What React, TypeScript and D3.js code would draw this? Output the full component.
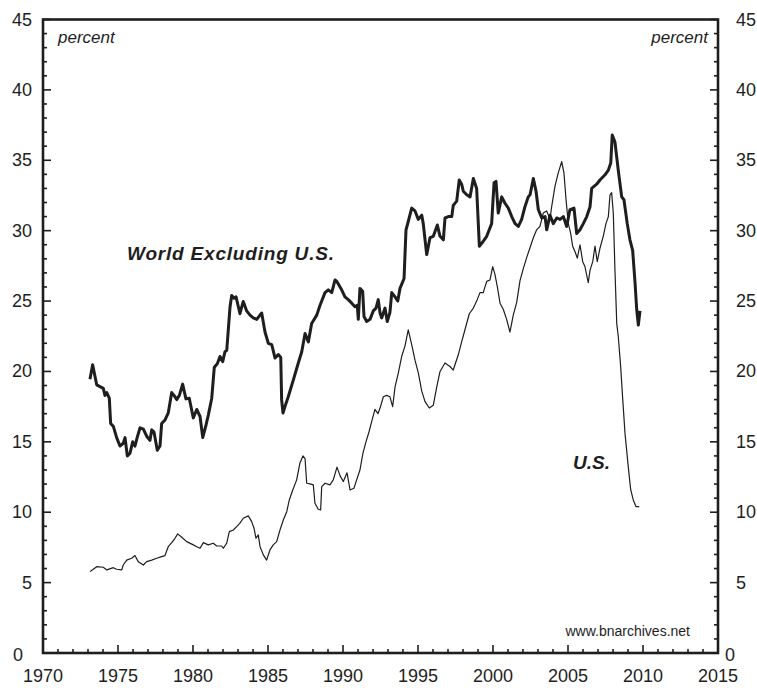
import * as d3 from 'd3';

// World excluding U.S. (thick line)
const worldYears = [
  1973.13, 1973.31, 1973.58, 1974.02, 1974.13, 1974.25, 1974.42, 1974.51, 1974.69, 1974.91,
  1975.13, 1975.35, 1975.47, 1975.62, 1975.8, 1975.98, 1976.13, 1976.29, 1976.47, 1976.69,
  1976.91, 1977.13, 1977.25, 1977.4, 1977.62, 1977.8, 1977.91, 1978.13, 1978.35, 1978.58,
  1978.8, 1978.91, 1979.09, 1979.31, 1979.53, 1979.75, 1980.02, 1980.25, 1980.47, 1980.65,
  1980.87, 1981.02, 1981.25, 1981.42, 1981.62, 1981.8, 1981.98, 1982.13, 1982.25, 1982.37,
  1982.47, 1982.58, 1982.73, 1982.87, 1983.0, 1983.13, 1983.35, 1983.58, 1983.8, 1984.02,
  1984.25, 1984.58, 1984.8, 1985.02, 1985.25, 1985.47, 1985.69, 1985.85, 1985.91, 1986.0,
  1986.13, 1986.35, 1986.69, 1987.02, 1987.25, 1987.47, 1987.69, 1987.91, 1988.25, 1988.47,
  1988.8, 1989.02, 1989.25, 1989.47, 1989.58, 1989.91, 1990.13, 1990.35, 1990.58, 1990.8,
  1990.95, 1991.02, 1991.13, 1991.31, 1991.4, 1991.58, 1991.8, 1992.02, 1992.2, 1992.35,
  1992.47, 1992.58, 1992.8, 1992.95, 1993.13, 1993.25, 1993.47, 1993.65, 1993.8, 1994.07,
  1994.2, 1994.35, 1994.58, 1994.8, 1995.02, 1995.25, 1995.35, 1995.58, 1995.8, 1996.02,
  1996.29, 1996.47, 1996.69, 1996.8, 1997.02, 1997.25, 1997.35, 1997.58, 1997.75, 1997.91,
  1998.02, 1998.25, 1998.47, 1998.69, 1998.91, 1999.09, 1999.25, 1999.58, 1999.91, 2000.07,
  2000.2, 2000.35, 2000.58, 2000.8, 2001.02, 2001.25, 2001.47, 2001.69, 2001.91, 2002.13,
  2002.35, 2002.47, 2002.69, 2002.87, 2003.02, 2003.25, 2003.47, 2003.58, 2003.8, 2004.02,
  2004.25, 2004.47, 2004.69, 2004.91, 2005.13, 2005.4, 2005.58, 2005.8, 2006.02, 2006.25,
  2006.47, 2006.58, 2006.91, 2007.13, 2007.47, 2007.69, 2007.85, 2007.95, 2008.13, 2008.35,
  2008.58, 2008.73, 2008.95, 2009.13, 2009.31, 2009.47, 2009.58, 2009.69, 2009.8,
];
const worldValues = [
  19.45, 20.47, 19.05, 18.8, 18.3, 18.5, 18.1, 16.3, 16.1, 15.3,
  14.7, 14.9, 15.3, 14.0, 14.2, 15.0, 14.7, 15.35, 16.0, 15.9,
  15.4, 15.1, 15.85, 15.7, 14.4, 14.7, 16.3, 16.55, 17.05, 18.5,
  18.2, 18.0, 18.3, 19.1, 18.05, 18.1, 16.7, 17.3, 16.8, 15.3,
  16.2, 16.9, 18.1, 20.3, 20.55, 21.06, 20.7, 21.4, 21.5, 23.2,
  24.6, 25.4, 25.2, 25.3, 24.7, 24.1, 24.97, 24.3, 24.0, 23.8,
  23.7, 24.15, 22.8, 22.0, 21.9, 20.95, 21.2, 21.0, 17.98, 17.05,
  17.5, 18.2, 19.4, 20.6, 21.4, 22.7, 22.1, 23.4, 24.0, 24.7,
  25.6, 25.8, 25.6, 26.5, 26.4, 25.8, 25.3, 25.1, 24.85, 24.6,
  24.7, 23.7, 25.9, 25.7, 23.9, 23.55, 23.7, 24.3, 24.5, 25.1,
  24.15, 23.8, 24.5, 23.55, 24.2, 25.6, 25.3, 25.0, 25.9, 26.6,
  30.06, 30.65, 31.6, 31.4, 30.8, 31.1, 30.5, 28.3, 29.5, 29.6,
  30.4, 29.6, 29.35, 30.9, 31.0, 31.0, 31.8, 32.1, 33.6, 33.3,
  32.8, 32.55, 32.4, 33.7, 33.0, 28.9, 29.1, 29.6, 30.5, 33.4,
  33.5, 31.25, 32.4, 31.95, 31.6, 31.0, 30.5, 30.3, 30.8, 31.7,
  32.4, 32.55, 33.7, 32.8, 31.5, 30.9, 31.0, 30.06, 31.1, 30.5,
  30.9, 30.8, 31.0, 30.3, 31.5, 31.6, 29.8, 30.06, 30.5, 31.0,
  31.7, 33.0, 33.3, 33.6, 33.97, 34.3, 34.8, 36.8, 36.3, 34.3,
  32.4, 32.2, 30.5, 29.35, 28.6, 26.3, 24.4, 23.3, 24.3,
];

// U.S. (thin line)
const usYears = [
  1973.13, 1973.35, 1973.58, 1974.02, 1974.25, 1974.69, 1974.91, 1975.25, 1975.35, 1975.58,
  1975.91, 1976.13, 1976.35, 1976.69, 1976.91, 1977.25, 1977.58, 1977.91, 1978.13, 1978.35,
  1978.58, 1978.8, 1978.98, 1979.25, 1979.58, 1980.02, 1980.25, 1980.47, 1980.69, 1981.02,
  1981.35, 1981.58, 1981.91, 1982.02, 1982.25, 1982.42, 1982.69, 1982.91, 1983.13, 1983.35,
  1983.69, 1983.91, 1984.07, 1984.2, 1984.35, 1984.47, 1984.69, 1984.91, 1985.13, 1985.35,
  1985.58, 1985.8, 1986.02, 1986.25, 1986.42, 1986.65, 1986.91, 1987.13, 1987.33, 1987.47,
  1987.58, 1987.87, 1988.02, 1988.13, 1988.35, 1988.51, 1988.58, 1988.8, 1989.13, 1989.35,
  1989.6, 1989.8, 1990.02, 1990.27, 1990.47, 1990.73, 1990.91, 1991.13, 1991.33, 1991.53,
  1991.73, 1991.93, 1992.13, 1992.33, 1992.47, 1992.69, 1992.91, 1993.13, 1993.31, 1993.47,
  1993.69, 1993.91, 1994.13, 1994.35, 1994.58, 1994.8, 1995.02, 1995.25, 1995.47, 1995.75,
  1996.02, 1996.25, 1996.47, 1996.8, 1997.13, 1997.35, 1997.69, 1997.91, 1998.13, 1998.42,
  1998.69, 1998.95, 1999.13, 1999.35, 1999.58, 1999.8, 1999.98, 2000.13, 2000.29, 2000.47,
  2000.69, 2000.91, 2001.13, 2001.35, 2001.58, 2001.8, 2002.02, 2002.25, 2002.47, 2002.69,
  2002.91, 2003.13, 2003.35, 2003.58, 2003.8, 2003.91, 2004.13, 2004.35, 2004.58, 2004.73,
  2004.87, 2005.02, 2005.18, 2005.31, 2005.47, 2005.62, 2005.8, 2005.98, 2006.13, 2006.35,
  2006.47, 2006.65, 2006.8, 2006.95, 2007.13, 2007.35, 2007.53, 2007.69, 2007.8, 2007.91,
  2008.02, 2008.13, 2008.25, 2008.35, 2008.51, 2008.65, 2008.8, 2009.02, 2009.18, 2009.35,
  2009.53, 2009.75,
];
const usValues = [
  5.78, 5.95, 6.13, 6.09, 5.9, 6.06, 5.95, 5.9, 6.25, 6.6,
  6.73, 6.92, 6.49, 6.25, 6.49, 6.6, 6.73, 6.85, 6.92, 7.55,
  7.84, 8.15, 8.46, 8.22, 7.91, 7.68, 7.55, 7.44, 7.84, 7.68,
  7.8, 7.6, 7.6, 7.44, 7.8, 8.62, 8.74, 8.98, 9.22, 9.57,
  9.74, 9.33, 8.86, 8.15, 8.39, 7.55, 6.97, 6.6, 7.32, 7.68,
  7.91, 8.74, 9.45, 10.04, 10.87, 11.58, 12.3, 13.5, 14.0, 13.8,
  12.06, 12.0, 11.94, 10.64, 10.21, 10.16, 11.82, 12.06, 11.94, 12.3,
  13.2, 12.6, 12.18, 12.8, 11.58, 11.7, 12.3, 13.0, 14.2, 15.0,
  15.7, 16.5, 17.3, 17.0, 17.4, 18.2, 18.3, 18.2, 17.5, 18.9,
  19.9, 21.06, 21.8, 22.96, 21.9, 20.8, 19.9, 18.6, 17.86, 17.4,
  17.6, 18.9, 20.0, 20.6, 20.35, 20.1, 21.2, 22.1, 22.96, 24.1,
  24.5, 25.1, 25.6, 25.6, 26.4, 26.5, 27.45, 26.9, 26.0, 24.85,
  24.4, 23.7, 22.8, 24.0, 24.9, 26.45, 27.3, 28.1, 28.8, 29.5,
  30.06, 30.3, 31.25, 31.4, 30.8, 31.7, 33.15, 34.1, 34.9, 34.1,
  32.2, 30.5, 29.8, 28.9, 28.5, 28.05, 29.0, 27.8, 27.45, 26.3,
  27.2, 27.8, 28.9, 27.8, 28.75, 29.6, 30.5, 31.0, 32.55, 32.7,
  31.25, 27.2, 23.4, 22.5, 20.35, 18.0, 15.6, 13.2, 11.6, 10.87,
  10.4, 10.4,
];

const xTickLabels = [1970, 1975, 1980, 1985, 1990, 1995, 2000, 2005, 2010, 2015];
const yTickLabels = [0, 5, 10, 15, 20, 25, 30, 35, 40, 45];

const W = 757;
const H = 688;
const left = 43;
const right = 718;
const top = 19.5;
const bottom = 653;
const ink = '#1e1e1e';
const font = '"Liberation Sans", Arial, Helvetica, sans-serif';

export default function App() {
  const x = d3.scaleLinear().domain([1970, 2015]).range([left, right]);
  const y = d3.scaleLinear().domain([0, 45]).range([bottom, top]);

  const line = d3
    .line<[number, number]>()
    .x((d) => x(d[0]))
    .y((d) => y(d[1]));

  const world = worldYears.map((yr, i) => [yr, worldValues[i]] as [number, number]);
  const us = usYears.map((yr, i) => [yr, usValues[i]] as [number, number]);

  const yMinor = d3.range(0, 46, 1);
  const xMinor = d3.range(1970, 2016, 1);

  return (
    <svg
      width={W}
      height={H}
      style={{ position: 'absolute', left: 0, top: 0, background: '#fff' }}
      fontFamily={font}
    >
      {/* ticks, inward on left / right / bottom */}
      {yMinor.map((v) => {
        const len = v % 5 === 0 ? 8 : 4;
        return (
          <g key={'y' + v} stroke={ink} strokeWidth={1.6}>
            <line x1={left} x2={left + len} y1={y(v)} y2={y(v)} />
            <line x1={right} x2={right - len} y1={y(v)} y2={y(v)} />
          </g>
        );
      })}
      {xMinor.map((v) => {
        const len = v % 5 === 0 ? 8 : 4;
        return (
          <line
            key={'x' + v}
            x1={x(v)}
            x2={x(v)}
            y1={bottom}
            y2={bottom - len}
            stroke={ink}
            strokeWidth={1.6}
          />
        );
      })}

      {/* frame */}
      <rect
        x={left}
        y={top}
        width={right - left}
        height={bottom - top}
        fill="none"
        stroke={ink}
        strokeWidth={2.6}
      />

      {/* tick labels */}
      {yTickLabels.map((v) => (
        <g key={'yl' + v} fontSize={18} fill={ink}>
          <text x={v === 0 ? 23 : 32} y={y(v) + (v === 0 ? 8 : 6)} textAnchor="end">
            {v}
          </text>
          <text x={v === 0 ? 725 : 736} y={y(v) + (v === 0 ? 8 : 6)} textAnchor="start">
            {v}
          </text>
        </g>
      ))}
      {xTickLabels.map((v) => (
        <text key={'xl' + v} x={x(v)} y={682} textAnchor="middle" fontSize={18} fill={ink}>
          {v}
        </text>
      ))}

      <text x={58} y={43} fontSize={17} fontStyle="italic" fill={ink}>
        percent
      </text>
      <text x={708} y={43} fontSize={17} fontStyle="italic" fill={ink} textAnchor="end">
        percent
      </text>

      {/* series */}
      <path d={line(us) ?? ''} fill="none" stroke={ink} strokeWidth={1.2} strokeLinejoin="round" />
      <path d={line(world) ?? ''} fill="none" stroke={ink} strokeWidth={3} strokeLinejoin="round" />

      <text x={127} y={260} fontSize={19} fontWeight="bold" fontStyle="italic" fill={ink} letterSpacing={0.8}>
        World Excluding U.S.
      </text>
      <text x={573} y={469} fontSize={19} fontWeight="bold" fontStyle="italic" fill={ink}>
        U.S.
      </text>
      <text x={690} y={636} fontSize={14} fill={ink} textAnchor="end">
        www.bnarchives.net
      </text>
    </svg>
  );
}
